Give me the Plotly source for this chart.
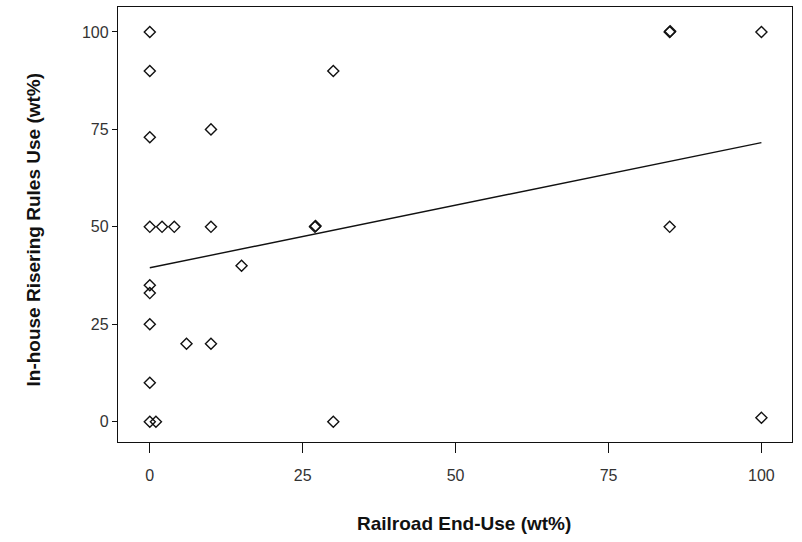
import plotly.graph_objects as go

# Data
railroad = [0, 0, 0, 0, 0, 0, 0, 0, 0, 1,
            2, 4, 6, 10, 10, 10, 15,
            27, 27.1, 30, 30, 85, 85, 85.08, 100, 100]
inhouse = [100, 90, 73, 50, 35, 33, 25, 10, 0, 0,
           50, 50, 20, 75, 50, 20, 40,
           50, 50.2, 90, 0, 100, 50, 100.2, 100, 1]

fit_x = [0, 100]
fit_y = [39.5, 71.6]

x_ticks = [0, 25, 50, 75, 100]
y_ticks = [0, 25, 50, 75, 100]
x_title = "Railroad End-Use (wt%)"
y_title = "In-house Risering Rules Use (wt%)"

fig = go.Figure()
fig.add_trace(go.Scatter(
    x=fit_x, y=fit_y, mode="lines",
    line=dict(color="#111111", width=1.4),
    showlegend=False, hoverinfo="skip"))
fig.add_trace(go.Scatter(
    x=railroad, y=inhouse, mode="markers",
    marker=dict(symbol="diamond-open", size=8.5, color="#111111",
                line=dict(width=1.4, color="#111111")),
    showlegend=False))

tickfont = dict(family="Liberation Sans, Arial, sans-serif",
                size=16, color="#333333")
axis_common = dict(showgrid=False, zeroline=False, showline=True, mirror=True,
                   linecolor="#111111", linewidth=1.4, ticks="outside",
                   tickcolor="#111111", tickwidth=1.2, tickfont=tickfont)

fig.update_xaxes(range=[-5.2, 105], tickvals=x_ticks,
                 ticktext=[str(v) for v in x_ticks], ticklen=10,
                 ticklabelstandoff=9, **axis_common)
fig.update_yaxes(range=[-5.2, 106.4], tickvals=y_ticks,
                 ticktext=[str(v) for v in y_ticks], ticklen=5, **axis_common)

titlefont = dict(family="Liberation Sans, Arial, sans-serif", size=19, color="#111111")
fig.add_annotation(text="<b>" + x_title + "</b>", xref="paper", yref="paper",
                   x=0.5, y=0, xanchor="center", yanchor="middle",
                   xshift=9, yshift=-81, showarrow=False, font=titlefont)
fig.add_annotation(text="<b>" + y_title + "</b>", xref="paper", yref="paper",
                   x=0, y=0.5, xanchor="center", yanchor="middle", textangle=-90,
                   xshift=-85, yshift=-5, showarrow=False, font=titlefont)

fig.update_layout(width=802, height=542, autosize=False,
                  margin=dict(l=118, r=10, t=7, b=100),
                  paper_bgcolor="white", plot_bgcolor="white")

fig.write_html("out.html", config={"displayModeBar": False},
               post_script="document.body.style.margin='0';document.body.style.overflow='hidden';")
